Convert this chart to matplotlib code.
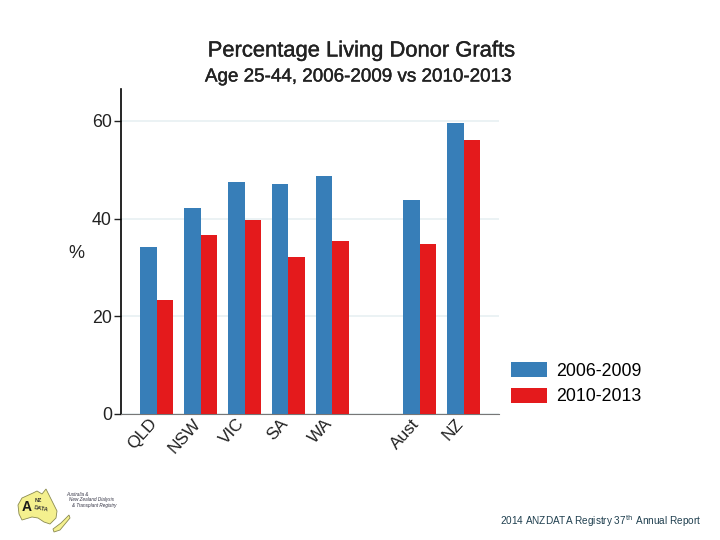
#!/usr/bin/python3
# plot.py
import matplotlib
matplotlib.use('Agg')
import matplotlib.pyplot as plt
import matplotlib.patheffects as pe
from matplotlib.patches import Polygon
from matplotlib.transforms import ScaledTranslation

plt.rcParams['font.family'] = ['Liberation Sans', 'DejaVu Sans']

states = ['QLD', 'NSW', 'VIC', 'SA', 'WA', 'Aust', 'NZ']
slots = [0, 1, 2, 3, 4, 6, 7]
early = [34.2, 42.2, 47.5, 47.0, 48.6, 43.7, 59.5]
late = [23.4, 36.6, 39.7, 32.2, 35.4, 34.7, 56.0]
yticks = [0, 20, 40, 60]

BLUE = '#377eb8'
RED = '#e41a1c'
W, H = 720, 540

fig = plt.figure(figsize=(7.2, 5.4), dpi=100)
ax = fig.add_axes([121/W, 1-414/H, 378/W, 325/H])

bw = 0.375
ax.bar([s-bw/2 for s in slots], early, bw, color=BLUE, label='2006-2009', zorder=3)
ax.bar([s+bw/2 for s in slots], late, bw, color=RED, label='2010-2013', zorder=3)

ax.set_xlim(-0.82, 7.81)
ax.set_ylim(0, 66.5)
ax.set_yticks(yticks)
ax.tick_params(axis='y', labelsize=12.8, length=5, width=1, pad=1.5, colors='#222222')
ax.yaxis.grid(True, color='#e8f0f2', lw=1.2, zorder=0)
ax.set_axisbelow(True)
ax.spines['top'].set_visible(False)
ax.spines['right'].set_visible(False)
ax.spines['left'].set_linewidth(1.2)
ax.spines['bottom'].set_color('#777777')

ax.set_xticks(slots)
ax.set_xticklabels(states, rotation=48, ha='right', rotation_mode='anchor', fontsize=12.4, color='#222222')
ax.tick_params(axis='x', length=0, pad=1.5)
# labels sit a little left of the bar centres
shift = ScaledTranslation(-6/72, 0, fig.dpi_scale_trans)
for lab in ax.get_xticklabels():
    lab.set_transform(lab.get_transform() + shift)

heavy = [pe.withStroke(linewidth=0.3, foreground='#222222')]
fig.text(76/W, 1-253/H, '%', fontsize=13, ha='center', va='center', color='#222222')
fig.text(361/W, 1-51/H, 'Percentage Living Donor Grafts', fontsize=15.8, ha='center', va='center',
         color='#222222', path_effects=heavy)
fig.text(359/W, 1-77/H, 'Age 25-44, 2006-2009 vs 2010-2013', fontsize=13.55, ha='center', va='center',
         color='#222222', path_effects=heavy)

ax.legend(loc='upper left', bbox_to_anchor=(511/W, 1-362/H), bbox_transform=fig.transFigure,
          frameon=False, fontsize=12.8, handlelength=2.03, handleheight=0.9, handletextpad=0.5,
          labelspacing=0.47, borderaxespad=0, borderpad=0)

fig.text(701/W, 1-521/H, '2014 ANZDATA Registry 37$^{\\mathrm{th}}$ Annual Report', fontsize=7.2,
         ha='right', va='center', color='#1f3f4f')

# logo, rough map outlines
logo = fig.add_axes([0, 0, 1, 1], facecolor='none')
logo.set_xlim(0, W)
logo.set_ylim(H, 0)
logo.axis('off')
aus = [(18, 505), (22, 498), (33, 493), (37, 491), (42, 494), (46, 489), (49, 495), (54, 505),
       (57, 511), (56, 518), (50, 524), (44, 522), (38, 518), (32, 517), (22, 520), (19, 514)]
logo.add_patch(Polygon(aus, closed=True, fc='#f4f08e', ec='#8a8a50', lw=0.6))
nz = [(69, 515), (70, 518), (65, 524), (60, 530), (54, 532), (53, 529), (61, 523)]
logo.add_patch(Polygon(nz, closed=True, fc='#f4f08e', ec='#8a8a50', lw=0.6))
logo.text(27, 507, 'A', fontsize=10, fontweight='bold', color='#1a1a1a', ha='center', va='center')
logo.text(38, 501, 'NZ', fontsize=4, fontweight='bold', color='#333333', ha='center', va='center')
logo.text(41, 509, 'DATA', fontsize=4, fontweight='bold', color='#333333', ha='center', va='center', rotation=-10)
for y, x, t in [(494, 66, 'Australia &'), (499, 69, 'New Zealand Dialysis'), (506, 72, '& Transplant Registry')]:
    logo.text(x, y, t, fontsize=3.3, color='#333344', ha='left', va='center', style='italic')

fig.savefig('out.png', dpi=100)
